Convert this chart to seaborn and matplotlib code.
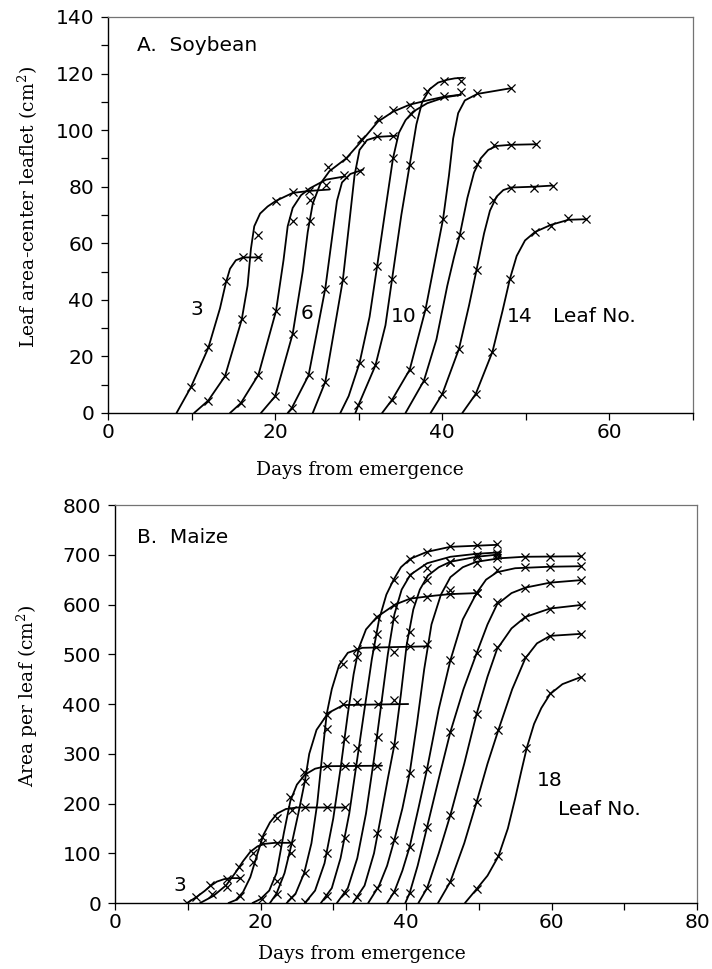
import pandas as pd
import seaborn as sns
import matplotlib.pyplot as plt
from matplotlib.ticker import MultipleLocator

# ---------------- A. Soybean: fitted curves (day, cm2) ----------------
soy_line_3 = [(8.2, 0), (9.9, 9), (12.0, 23), (13.4, 37), (14.1, 46), (14.6, 51), (15.3, 54), (16.2, 55), (18.3, 55)]
soy_line_4 = [(10.3, 0), (12.0, 4.4), (14.0, 13), (16.0, 33), (16.7, 45), (17.1, 58), (17.5, 66), (18.2, 70.5),
              (19.1, 73), (20.1, 75), (22.1, 77.8), (24.1, 78.5), (26.5, 79)]
soy_line_5 = [(14.6, 0), (15.9, 3.5), (18.0, 13.5), (20.1, 36), (21.0, 54), (21.5, 66), (22.1, 72.5), (23.1, 77),
              (24.2, 79.5), (26.1, 82.5), (28.3, 83.6)]
soy_line_6 = [(18.3, 0), (20.0, 5.9), (22.1, 28), (23.3, 50), (23.9, 64), (24.5, 74), (25.4, 81), (26.5, 85.5),
              (28.5, 90), (30.3, 96), (32.3, 103), (34.1, 106.5), (36.1, 109), (38.2, 110.5), (40.2, 111.8), (42.2, 112.5)]
soy_line_7 = [(21.5, 0), (22.0, 1.8), (24.0, 13.3), (26.0, 44), (26.9, 64), (27.4, 75), (28.0, 81.5), (29.0, 84.5), (30.5, 86)]
soy_line_8 = [(24.5, 0), (26.0, 11), (28.1, 47), (28.9, 68), (29.5, 84), (30.1, 93), (31.0, 96.5), (32.2, 97.6), (34.5, 98)]
soy_line_9 = [(27.8, 0), (28.8, 6), (30.1, 17.7), (31.3, 34), (32.2, 51.8), (33.2, 72), (34.1, 90), (34.8, 99),
              (35.6, 103.5), (36.5, 106.5), (38.2, 109.5), (40.2, 111.5), (42.2, 112.5)]
soy_line_10 = [(29.6, 0), (30.0, 3), (32.0, 16.8), (33.2, 31), (34.0, 47.5), (35.1, 70), (36.1, 87.7), (36.9, 102),
               (37.6, 110), (38.5, 114.5), (39.5, 116.8), (40.6, 117.8), (41.5, 118.3), (42.5, 118.5)]
soy_line_11 = [(32.8, 0), (34.0, 4.7), (36.1, 15.3), (38.0, 36.7), (39.2, 55), (40.1, 68.7), (40.8, 84), (41.3, 97),
               (41.9, 106), (42.7, 110.5), (44.2, 112.8), (46.2, 113.8), (48.2, 114.8)]
soy_line_12 = [(35.6, 0), (37.8, 11.4), (39.3, 26), (40.6, 45), (41.4, 55), (42.1, 63), (43.0, 76), (43.8, 85),
               (44.6, 90), (45.5, 93), (46.5, 94.4), (48.2, 94.8), (51.2, 95)]
soy_line_13 = [(38.6, 0), (40.0, 6.7), (42.0, 22.7), (43.2, 38), (44.1, 50.6), (45.0, 63.5), (45.7, 71.5), (46.5, 76.5),
               (47.3, 78.8), (48.2, 79.7), (51.0, 80), (53.2, 80.4)]
soy_line_14 = [(42.4, 0), (44.0, 6.7), (46.0, 21.6), (47.2, 36), (48.1, 47.5), (48.9, 55.5), (49.9, 61), (51.1, 64),
               (53.0, 66.5), (55.1, 68.3), (57.2, 68.5)]

# soybean observations
soy_obs_3 = [(9.9, 9.1), (12.0, 23.2), (14.1, 46.5), (16.2, 55.2), (18.0, 55.2)]
soy_obs_4 = [(12.0, 4.4), (14.0, 13), (16.0, 33.3), (18.0, 63), (20.1, 74.8), (22.1, 78.1), (24.1, 78.3)]
soy_obs_5 = [(15.9, 3.5), (18.0, 13.5), (20.1, 36), (22.1, 68), (24.2, 75.4), (26.1, 80.7)]
soy_obs_6 = [(20.0, 5.9), (22.1, 28), (24.2, 68), (26.3, 86.8), (28.5, 90), (32.3, 104), (34.1, 107), (36.1, 109)]
soy_obs_7 = [(22.0, 1.8), (24.0, 13.3), (26.0, 44), (28.2, 84.2), (30.1, 85.6)]
soy_obs_8 = [(26.0, 11), (28.1, 47), (30.3, 97), (32.2, 98), (34.1, 98)]
soy_obs_9 = [(30.1, 17.7), (32.2, 51.8), (34.1, 90), (36.2, 105.7), (40.2, 111.9)]
soy_obs_10 = [(29.9, 3), (32.0, 16.8), (34.0, 47.5), (36.1, 87.7), (38.2, 113.9), (40.2, 117.2), (42.2, 117.2)]
soy_obs_11 = [(34.0, 4.7), (36.1, 15.3), (38.0, 36.7), (40.1, 68.7), (42.2, 113.4), (44.2, 113), (48.2, 114.8)]
soy_obs_12 = [(37.8, 11.4), (42.1, 62.8), (44.2, 88), (46.2, 94.6), (48.2, 94.6), (51.2, 95)]
soy_obs_13 = [(40.0, 6.7), (42.0, 22.7), (44.1, 50.6), (46.1, 75.4), (48.2, 79.7), (51.0, 79.7), (53.2, 80.4)]
soy_obs_14 = [(44.0, 6.7), (46.0, 21.6), (48.1, 47.5), (51.1, 64), (53.0, 66.2), (55.1, 68.9), (57.2, 68.5)]

# ---------------- B. Maize: fitted curves (day, cm2) ----------------
maize_line_3 = [(9.9, 0), (11.2, 12), (12.3, 24), (13.1, 34), (14.0, 43), (15.0, 48), (16.0, 50), (17.2, 50)]
maize_line_4 = [(11.7, 0), (13.5, 14), (15.3, 36), (16.6, 62), (17.6, 84), (18.6, 103), (19.6, 114), (20.6, 119),
                (22.0, 121), (24.3, 121)]
maize_line_5 = [(15.6, 0), (16.6, 6), (17.6, 22), (18.6, 52), (19.6, 100), (20.4, 137), (21.3, 162), (22.3, 180),
                (23.5, 189), (25.0, 192), (31.6, 192)]
maize_line_6 = [(18.9, 0), (20.0, 8), (21.2, 25), (22.2, 60), (23.2, 140), (24.1, 205), (25.0, 238), (26.1, 258),
                (27.5, 270), (29.0, 275), (36.7, 276)]
maize_line_7 = [(21.3, 0), (22.2, 19), (23.3, 60), (24.3, 120), (25.2, 180), (26.1, 245), (26.7, 300), (27.7, 348),
                (29.3, 382), (31.4, 398), (40.3, 400)]
maize_line_8 = [(23.6, 0), (24.8, 18), (26.0, 60), (27.0, 120), (27.8, 200), (28.5, 300), (29.1, 380), (29.8, 430),
                (30.8, 478), (32.0, 503), (34.0, 513), (43.1, 516)]
maize_line_9 = [(26.1, 0), (27.5, 25), (28.8, 80), (30.0, 170), (31.0, 270), (32.0, 380), (32.8, 460), (33.5, 512),
                (34.5, 550), (36.0, 575), (38.5, 600), (40.6, 612), (44.0, 618), (46.1, 621), (49.8, 623)]
maize_line_10 = [(28.3, 0), (29.8, 30), (31.0, 90), (32.2, 180), (33.3, 290), (34.3, 390), (35.3, 490), (36.3, 570),
                 (37.3, 620), (38.3, 650), (39.3, 675), (40.6, 692), (42.9, 706), (46.1, 716), (52.5, 720)]
maize_line_11 = [(30.5, 0), (32.0, 30), (33.3, 90), (34.5, 180), (35.6, 290), (36.6, 400), (37.5, 500), (38.4, 580),
                 (39.4, 630), (40.6, 660), (42.9, 683), (46.1, 696), (49.7, 702), (53.0, 705)]
maize_line_12 = [(32.7, 0), (34.3, 35), (35.6, 100), (36.5, 170), (37.5, 250), (38.4, 318), (39.3, 420), (40.1, 520),
                 (41.0, 590), (41.9, 630), (43.0, 658), (44.5, 675), (46.1, 686), (49.7, 696), (53.0, 701)]
maize_line_13 = [(34.8, 0), (36.3, 35), (37.4, 75), (38.4, 127), (39.5, 190), (40.5, 261), (41.5, 360), (42.5, 470),
                 (43.5, 560), (44.8, 620), (46.1, 655), (47.8, 675), (49.7, 686), (52.9, 693), (56.2, 696), (64.0, 697)]
maize_line_14 = [(37.4, 0), (38.4, 23), (39.5, 65), (40.5, 113), (41.7, 190), (42.9, 270), (44.5, 390), (46.1, 488),
                 (47.8, 570), (49.7, 623), (51.0, 650), (52.5, 665), (55.0, 673), (59.8, 676), (64.0, 677)]
maize_line_15 = [(39.9, 0), (40.5, 20), (41.6, 75), (42.9, 153), (44.5, 250), (46.1, 344), (47.9, 430), (49.7, 502),
                 (51.2, 560), (52.5, 600), (54.5, 623), (56.4, 634), (59.8, 644), (64.0, 649)]
maize_line_16 = [(41.7, 0), (42.9, 30), (44.5, 100), (46.1, 177), (48.0, 280), (49.7, 380), (51.2, 455), (52.5, 510),
                 (54.5, 552), (56.4, 575), (59.8, 592), (64.0, 599)]
maize_line_17 = [(44.4, 0), (46.1, 43), (48.0, 120), (49.7, 203), (51.2, 280), (52.7, 348), (54.6, 430), (56.4, 492),
                 (58.0, 522), (59.8, 537), (64.0, 541)]
maize_line_18 = [(48.1, 0), (49.7, 28), (51.2, 55), (52.7, 94), (54.0, 150), (55.0, 210), (55.8, 262), (56.6, 312),
                 (57.6, 360), (58.6, 392), (59.8, 420), (61.5, 440), (64.0, 454)]

# maize observations
maize_obs_3 = [(9.9, 1), (11.2, 12), (13.1, 36), (15.4, 48), (17.2, 50)]
maize_obs_4 = [(13.3, 19), (15.4, 33), (17.1, 73), (19.0, 100), (20.2, 120), (22.2, 121), (24.2, 121)]
maize_obs_5 = [(17.2, 15), (19.0, 83), (20.2, 133), (22.2, 170), (24.3, 187), (26.1, 193), (29.1, 192), (31.6, 192)]
maize_obs_6 = [(20.2, 8), (22.2, 45), (24.1, 214), (26.0, 264), (29.1, 276), (31.6, 276), (33.2, 276), (36.0, 276)]
maize_obs_7 = [(22.2, 19), (24.2, 100), (26.1, 245), (29.1, 378), (31.4, 400), (33.2, 405), (36.2, 400), (38.3, 408)]
maize_obs_8 = [(24.2, 12), (26.1, 60), (29.1, 350), (31.3, 480), (33.2, 511), (35.9, 515), (38.3, 505), (40.5, 516)]
maize_obs_9 = [(26.1, 3), (29.1, 100), (31.6, 330), (33.2, 495), (36.0, 575), (38.3, 600), (40.5, 612), (42.9, 615),
               (46.1, 621), (49.7, 623)]
maize_obs_10 = [(29.1, 15), (31.6, 130), (33.2, 311), (36.0, 540), (38.3, 650), (40.5, 692), (42.9, 705), (46.1, 718),
                (49.7, 720), (52.5, 722)]
maize_obs_11 = [(31.6, 20), (36.2, 334), (38.3, 570), (40.5, 660), (42.9, 673), (46.1, 686), (49.7, 700), (52.5, 703)]
maize_obs_12 = [(33.2, 12), (36.0, 140), (38.4, 318), (40.5, 545), (42.9, 650), (46.1, 686), (49.7, 696), (52.5, 700)]
maize_obs_13 = [(36.0, 30), (38.4, 127), (40.5, 261), (42.9, 520), (46.1, 629), (49.7, 683), (52.5, 693), (56.4, 696),
                (59.8, 696), (64.0, 697)]
maize_obs_14 = [(38.4, 23), (40.5, 113), (42.9, 270), (46.1, 488), (49.7, 623), (52.5, 669), (56.4, 675), (59.8, 676),
                (64.0, 677)]
maize_obs_15 = [(40.5, 20), (42.9, 153), (46.1, 344), (49.7, 502), (52.5, 605), (56.4, 634), (59.8, 644), (64.0, 649)]
maize_obs_16 = [(42.9, 30), (46.1, 177), (49.7, 380), (52.5, 515), (56.4, 575), (59.8, 592), (64.0, 599)]
maize_obs_17 = [(46.1, 43), (49.7, 203), (52.7, 348), (56.4, 495), (59.8, 537), (64.0, 541)]
maize_obs_18 = [(49.7, 28), (52.7, 94), (56.5, 311), (59.8, 423), (64.0, 454)]

soy_lines = [soy_line_3, soy_line_4, soy_line_5, soy_line_6, soy_line_7, soy_line_8, soy_line_9,
             soy_line_10, soy_line_11, soy_line_12, soy_line_13, soy_line_14]
soy_obs = [soy_obs_3, soy_obs_4, soy_obs_5, soy_obs_6, soy_obs_7, soy_obs_8, soy_obs_9,
           soy_obs_10, soy_obs_11, soy_obs_12, soy_obs_13, soy_obs_14]
maize_lines = [maize_line_3, maize_line_4, maize_line_5, maize_line_6, maize_line_7, maize_line_8,
               maize_line_9, maize_line_10, maize_line_11, maize_line_12, maize_line_13, maize_line_14,
               maize_line_15, maize_line_16, maize_line_17, maize_line_18]
maize_obs = [maize_obs_3, maize_obs_4, maize_obs_5, maize_obs_6, maize_obs_7, maize_obs_8,
             maize_obs_9, maize_obs_10, maize_obs_11, maize_obs_12, maize_obs_13, maize_obs_14,
             maize_obs_15, maize_obs_16, maize_obs_17, maize_obs_18]


def to_frame(series):
    rows = [(i + 3, d, a) for i, pts in enumerate(series) for d, a in pts]
    return pd.DataFrame(rows, columns=['leaf', 'day', 'area'])


sns.set_theme(style='ticks')
plt.rcParams['font.family'] = ['DejaVu Sans']
plt.rcParams['mathtext.fontset'] = 'dejavuserif'
plt.rcParams['text.color'] = 'black'
plt.rcParams['axes.labelcolor'] = 'black'
plt.rcParams['xtick.labelcolor'] = 'black'
plt.rcParams['ytick.labelcolor'] = 'black'

fig = plt.figure(figsize=(7.12, 9.69), dpi=100)
ax1 = fig.add_axes([0.1517, 0.5738, 0.8216, 0.4087])
ax2 = fig.add_axes([0.1615, 0.0681, 0.8175, 0.4107])

panels = [(ax1, soy_lines, soy_obs), (ax2, maize_lines, maize_obs)]
for ax, lines, obs in panels:
    sns.lineplot(data=to_frame(lines), x='day', y='area', units='leaf', estimator=None, sort=False,
                 color='black', linewidth=1.3, ax=ax, legend=False)
    sns.scatterplot(data=to_frame(obs), x='day', y='area', marker='x', color='black',
                    s=34, linewidth=0.9, ax=ax, legend=False, zorder=3)

# axes ranges and ticks
ax1.set_xlim(0, 70)
ax1.set_ylim(0, 140)
ax1.xaxis.set_major_locator(MultipleLocator(20))
ax1.xaxis.set_minor_locator(MultipleLocator(10))
ax1.yaxis.set_major_locator(MultipleLocator(20))
ax1.yaxis.set_minor_locator(MultipleLocator(10))

ax2.set_xlim(0, 80)
ax2.set_ylim(0, 800)
ax2.xaxis.set_major_locator(MultipleLocator(20))
ax2.xaxis.set_minor_locator(MultipleLocator(10))
ax2.yaxis.set_major_locator(MultipleLocator(100))

serif = 'DejaVu Serif'
for ax in (ax1, ax2):
    for side in ('left', 'bottom'):
        ax.spines[side].set_color('black')
        ax.spines[side].set_linewidth(1.0)
    for side in ('top', 'right'):
        ax.spines[side].set_visible(True)
        ax.spines[side].set_color('0.45')
        ax.spines[side].set_linewidth(0.9)
    ax.tick_params(which='both', direction='out', length=5, width=0.9, color='black')
    ax.tick_params(axis='x', which='major', pad=2, labelsize=14.5)
    ax.tick_params(axis='y', which='major', pad=5, labelsize=14.5)
    ax.set_xlabel('Days from emergence', fontsize=13.5, family=serif)

ax1.set_ylabel('Leaf area-center leaflet (cm$^2$)', fontsize=13.5, family=serif)
ax2.set_ylabel('Area per leaf (cm$^2$)', fontsize=13.5, family=serif)
ax1.xaxis.set_label_coords(0.43, -0.122)
ax2.xaxis.set_label_coords(0.424, -0.106)
ax1.yaxis.set_label_coords(-0.116, 0.52)
ax2.yaxis.set_label_coords(-0.129, 0.52)

# panel texts
ax1.text(3.5, 130, 'A.  Soybean', fontsize=14.5, va='center', ha='left')
ax1.text(10.6, 36.7, '3', fontsize=14.5, va='center', ha='center')
ax1.text(23.8, 35.3, '6', fontsize=14.5, va='center', ha='center')
ax1.text(35.4, 34, '10', fontsize=14.5, va='center', ha='center')
ax1.text(49.3, 34, '14', fontsize=14.5, va='center', ha='center')
ax1.text(53.2, 34, 'Leaf No.', fontsize=14.5, va='center', ha='left')

ax2.text(3.0, 735, 'B.  Maize', fontsize=14.5, va='center', ha='left')
ax2.text(8.9, 35, '3', fontsize=14.5, va='center', ha='center')
ax2.text(59.8, 247, '18', fontsize=14.5, va='center', ha='center')
ax2.text(60.9, 187, 'Leaf No.', fontsize=14.5, va='center', ha='left')

fig.savefig('out.png', dpi=100)
